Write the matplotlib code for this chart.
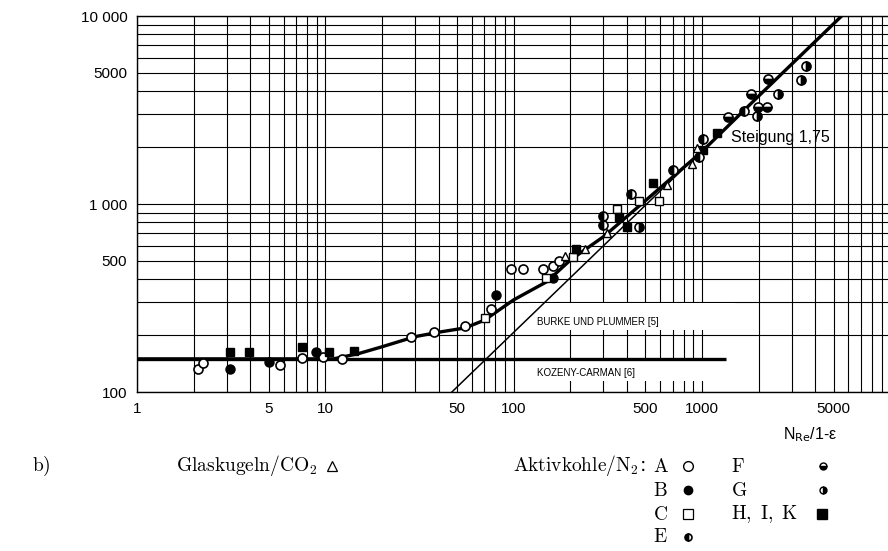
import numpy as np
import matplotlib
matplotlib.use("Agg")
import matplotlib.pyplot as plt
from matplotlib.lines import Line2D
from matplotlib.patches import Rectangle

# --- Messpunkte ---
A_x = [2.12, 2.24, 5.74, 7.52, 9.72, 12.3, 28.5, 38, 55.5, 75.6, 96.5, 111.8, 142.7, 162.5, 174.9]
A_y = [132, 143, 140, 151, 153, 149, 195, 208, 225, 276, 449, 449, 449, 468, 498]
B_x = [3.12, 5.02, 8.93, 80.6, 162.5]
B_y = [132, 144, 163, 329, 402]
C_x = [70.5, 148.6, 205.5, 352.8, 460.7, 591.6]
C_y = [249, 402, 525, 937, 1037, 1037]
E_x = [299.5, 299.5, 418.8, 704.7, 968.8, 1017, 1663]
E_y = [863, 773, 1126, 1517, 1785, 2209, 3123]
F_x = [1368, 1816, 1986, 2208, 2244]
F_y = [2914, 3847, 3293, 3293, 4611]
G_x = [465, 1950, 2545, 3360, 3591]
G_y = [757, 2939, 3838, 4539, 5400]
HIK_x = [3.12, 3.95, 7.52, 10.5, 14.2, 213.2, 364, 401.6, 553, 1017, 1198]
HIK_y = [163, 163, 174, 164, 166, 576, 853, 757, 1289, 1937, 2386]
glas_x = [187.5, 238.5, 313, 650.3, 883, 938.5]
glas_y = [529, 576, 700, 1262, 1626, 1993]

# --- Kurven ---
curve_x = [1, 5, 11, 15, 20, 30, 40, 55, 70, 100, 150, 200, 300, 500, 1000, 2000, 5520]
curve_y = [150, 150, 150, 160, 174, 197, 208, 219, 241, 309, 386, 503, 670, 1040, 1900, 3750, 10000]
burke_x = [47, 1000]
burke_y = [100, 1920]
kozeny_x = [1, 1350]
kozeny_y = [150, 150]

xticks = [1, 5, 10, 50, 100, 500, 1000, 5000]
xlabels = ["1", "5", "10", "50", "100", "500", "1000", "5000"]
yticks = [100, 500, 1000, 5000, 10000]
ylabels = ["100", "500", "1 000", "5000", "10 000"]

W, H = 888, 551
fig = plt.figure(figsize=(W / 100, H / 100), dpi=100)
ax = fig.add_axes([137 / W, 1 - 392 / H, 1 - 137 / W, (392 - 16) / H])
ax.set_xscale("log")
ax.set_yscale("log")
ax.set_xlim(1, 9730)
ax.set_ylim(100, 10000)

minor_x = [m * 10 ** d for d in range(4) for m in range(2, 10)]
minor_y = [m * 10 ** d for d in range(2, 4) for m in range(2, 10)]
ax.set_xticks(xticks)
ax.set_xticklabels(xlabels)
ax.set_xticks(minor_x, minor=True)
ax.set_xticklabels([], minor=True)
ax.set_yticks(yticks)
ax.set_yticklabels(ylabels)
ax.set_yticks(minor_y, minor=True)
ax.set_yticklabels([], minor=True)
ax.tick_params(which="both", length=0)
ax.tick_params(axis="x", pad=7)
ax.tick_params(axis="y", pad=7)
for lab in ax.get_xticklabels() + ax.get_yticklabels():
    lab.set_fontfamily("Liberation Sans")
    lab.set_fontsize(11)
ax.set_axisbelow(True)
ax.grid(which="both", color="black", lw=0.8)
ax.spines["right"].set_visible(False)
for s in ["left", "bottom", "top"]:
    ax.spines[s].set_linewidth(1.0)

# weisse Felder hinter den Beschriftungen
ax.add_patch(Rectangle((120, 214), 1380, 83, facecolor="white", edgecolor="none", zorder=1))
ax.add_patch(Rectangle((120, 114), 1380, 34, facecolor="white", edgecolor="none", zorder=1))

ax.plot(kozeny_x, kozeny_y, color="black", lw=2.4, solid_capstyle="butt", zorder=2)
ax.plot(curve_x, curve_y, color="black", lw=2.4, zorder=2)
ax.plot(burke_x, burke_y, color="black", lw=1.1, zorder=2)

mk = dict(ls="none", color="black", mec="black", zorder=3)
ax.plot(A_x, A_y, marker="o", ms=6.5, mfc="white", mew=1.2, **mk)
ax.plot(B_x, B_y, marker="o", ms=6.5, mfc="black", **mk)
ax.plot(C_x, C_y, marker="s", ms=5.5, mfc="white", mew=1.0, **mk)
ax.plot(HIK_x, HIK_y, marker="s", ms=5.5, mfc="black", **mk)
ax.plot(glas_x, glas_y, marker="^", ms=6, mfc="white", mew=1.0, **mk)
ax.plot(E_x, E_y, marker="o", ms=6.5, fillstyle="left", mfc="black", mfcalt="white", mew=1.2, **mk)
ax.plot(F_x, F_y, marker="o", ms=6.5, fillstyle="bottom", mfc="black", mfcalt="white", mew=1.2, **mk)
ax.plot(G_x, G_y, marker="o", ms=6.5, fillstyle="right", mfc="black", mfcalt="white", mew=1.2, **mk)

lab_font = dict(family="Liberation Sans", fontsize=7, ha="left", va="center", zorder=4)
ax.text(133, 236, "BURKE UND PLUMMER [5]", **lab_font)
ax.text(133, 126, "KOZENY-CARMAN [6]", **lab_font)
ax.text(1430, 2250, "Steigung 1,75", family="Liberation Sans", fontsize=11.5, ha="left", va="center", zorder=4)

def fx(px):
    return px / W

def fy(py):
    return 1 - py / H

fig.text(fx(783), fy(435), r"N$_{\mathrm{Re}}$/1-ε", family="Liberation Sans", fontsize=11.5,
         ha="left", va="center")

# Legende
lt = dict(fontsize=14, math_fontfamily="cm", va="center")
rows = [466, 490, 514, 537]
fig.text(fx(32), fy(rows[0]), r"$\mathrm{b)}$", ha="left", **lt)
fig.text(fx(176), fy(rows[0]), r"$\mathrm{Glaskugeln/CO_2}$", ha="left", **lt)
fig.text(fx(645), fy(rows[0]), r"$\mathrm{Aktivkohle/N_2}$:", ha="right", **lt)
for r, s in zip(rows, ["A", "B", "C", "E"]):
    fig.text(fx(653), fy(r), r"$\mathrm{%s}$" % s, ha="left", **lt)
for r, s in zip(rows[:3], ["F", "G", r"H,\ I,\ K"]):
    fig.text(fx(731), fy(r), r"$\mathrm{%s}$" % s, ha="left", **lt)

def legmark(px, py, **kw):
    fig.add_artist(Line2D([fx(px)], [fy(py)], transform=fig.transFigure, ls="none",
                          color="black", mec="black", **kw))

legmark(332, rows[0], marker="^", ms=6.5, mfc="white", mew=0.9)
legmark(688, rows[0], marker="o", ms=7, mfc="white", mew=1.0)
legmark(688, rows[1], marker="o", ms=6, mfc="black")
legmark(688, rows[2], marker="s", ms=7, mfc="white", mew=0.9)
legmark(688, rows[3], marker="o", ms=5, fillstyle="left", mfc="black", mfcalt="white", mew=1.2)
legmark(823, rows[0], marker="o", ms=5, fillstyle="bottom", mfc="black", mfcalt="white", mew=1.0)
legmark(823, rows[1], marker="o", ms=5, fillstyle="right", mfc="black", mfcalt="white", mew=1.0)
legmark(822, rows[2], marker="s", ms=7.5, mfc="black")

fig.savefig("out.png", dpi=100)
